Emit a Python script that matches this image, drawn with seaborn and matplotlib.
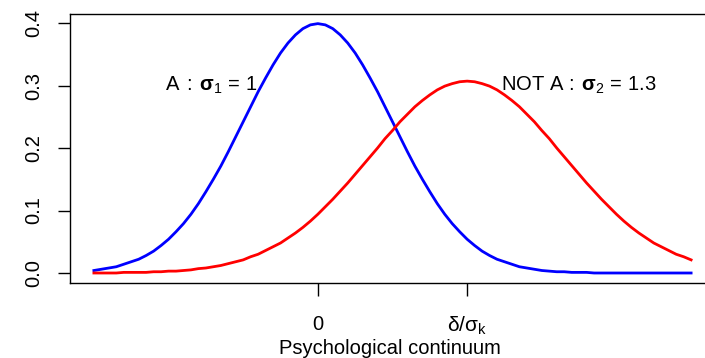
import numpy as np
import pandas as pd
import matplotlib
matplotlib.use('Agg')
import matplotlib.pyplot as plt
import seaborn as sns

x_grid = np.round(np.linspace(-3, 5, 81), 1)
blue_y = [0.004, 0.006, 0.008, 0.010, 0.014, 0.018, 0.022, 0.028, 0.035, 0.044,
          0.054, 0.066, 0.079, 0.094, 0.111, 0.130, 0.150, 0.171, 0.194, 0.218,
          0.242, 0.266, 0.290, 0.312, 0.333, 0.352, 0.368, 0.381, 0.391, 0.397,
          0.399,
          0.397, 0.391, 0.381, 0.368, 0.352, 0.333, 0.312, 0.290, 0.266, 0.242,
          0.218, 0.194, 0.171, 0.150, 0.130, 0.111, 0.094, 0.079, 0.066, 0.054,
          0.044, 0.035, 0.028, 0.022, 0.018, 0.014, 0.010, 0.008, 0.006, 0.004,
          0.003, 0.002, 0.002, 0.001, 0.001, 0.001,
          0.0, 0.0, 0.0, 0.0, 0.0, 0.0, 0.0, 0.0, 0.0, 0.0, 0.0, 0.0, 0.0, 0.0]
red_y = [0.000, 0.000, 0.000, 0.000, 0.001, 0.001, 0.001, 0.001, 0.002, 0.002,
         0.003, 0.003, 0.004, 0.005, 0.007, 0.008, 0.010, 0.012, 0.015, 0.018,
         0.021, 0.026, 0.030, 0.036, 0.042, 0.048, 0.056, 0.064, 0.073, 0.083,
         0.094, 0.106, 0.118, 0.131, 0.144, 0.158, 0.172, 0.186, 0.200, 0.215,
         0.228, 0.242, 0.254, 0.266, 0.276, 0.285, 0.293, 0.299, 0.303, 0.306,
         0.307,
         0.306, 0.303, 0.299, 0.293, 0.285, 0.276, 0.266, 0.254, 0.242, 0.228,
         0.215, 0.200, 0.186, 0.172, 0.158, 0.144, 0.131, 0.118, 0.106, 0.094,
         0.083, 0.073, 0.064, 0.056, 0.048, 0.042, 0.036, 0.030, 0.026, 0.021]

tick_pos = [0, 2]
tick_labels = ['0', r'$\delta/\sigma_\mathrm{k}$']
labels = [r'A$\;:\:\mathbf{\sigma}_1\,=\,1$', r'NOT A$\,:\:\mathbf{\sigma}_2\,=\,1.3$']
label_x = [-1.43, 3.5]
label_y = [0.3, 0.3]

plt.rcParams['font.family'] = ['Liberation Sans', 'DejaVu Sans']
plt.rcParams['mathtext.fontset'] = 'custom'
plt.rcParams['mathtext.rm'] = 'Liberation Sans'
plt.rcParams['mathtext.it'] = 'Liberation Sans'
plt.rcParams['mathtext.bf'] = 'Liberation Sans:bold'

fsize = 14.5

fig = plt.figure(figsize=(7.05, 3.58), dpi=100)
ax = fig.add_axes([70/705, 75/358, 645/705, 269/358])

df = pd.DataFrame({'x': x_grid, 'blue': blue_y, 'red': red_y})
sns.lineplot(data=df, x='x', y='blue', color='#0000ff', lw=2, ax=ax)
sns.lineplot(data=df, x='x', y='red', color='#ff0000', lw=2, ax=ax)

for t, xx, yy in zip(labels, label_x, label_y):
    ax.text(xx, yy, t, ha='center', va='center', fontsize=fsize)

ax.set_xlim(-3.32, 5.32)
ax.set_ylim(-0.016, 0.4144)
ax.set_xticks(tick_pos)
ax.set_xticklabels(tick_labels, fontsize=fsize)
ax.get_xticklabels()[1].set_fontsize(15)
ax.set_yticks([0.0, 0.1, 0.2, 0.3, 0.4])
ax.set_yticklabels(['0.0', '0.1', '0.2', '0.3', '0.4'], rotation=90, va='center', fontsize=fsize)
ax.tick_params(length=9, width=1)
ax.tick_params(axis='y', pad=10)
ax.tick_params(axis='x', pad=14)
ax.set_xlabel('')
ax.set_ylabel('')
fig.text(390/705, 1 - 349/358, 'Psychological continuum', ha='center', va='center', fontsize=fsize)
for s in ax.spines.values():
    s.set_linewidth(1)

fig.savefig('out.png', dpi=100)
